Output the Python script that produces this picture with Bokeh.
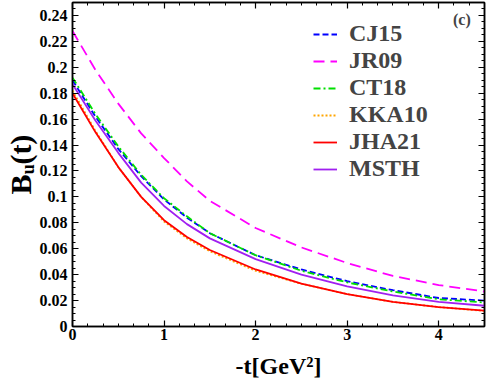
from bokeh.plotting import figure
from bokeh.models import (Range1d, FixedTicker, LinearAxis, Label, Legend)
from bokeh.embed import file_html
from bokeh.resources import INLINE

# ---- data ----
t_vals = [0, 0.25, 0.5, 0.75, 1, 1.25, 1.5, 2, 2.5, 3, 3.5, 4, 4.5]
cj15 = [0.190, 0.162, 0.137, 0.116, 0.098, 0.084, 0.072, 0.055, 0.044, 0.035, 0.028, 0.022, 0.020]
jr09 = [0.228, 0.198, 0.172, 0.149, 0.130, 0.112, 0.097, 0.076, 0.061, 0.049, 0.039, 0.032, 0.027]
ct18 = [0.192, 0.164, 0.139, 0.117, 0.099, 0.085, 0.072, 0.055, 0.043, 0.034, 0.027, 0.021, 0.0185]
kka10 = [0.182, 0.151, 0.123, 0.100, 0.081, 0.068, 0.058, 0.043, 0.033, 0.025, 0.019, 0.015, 0.012]
jha21 = [0.180, 0.150, 0.123, 0.100, 0.082, 0.069, 0.059, 0.044, 0.033, 0.025, 0.019, 0.015, 0.0123]
msth = [0.187, 0.159, 0.134, 0.111, 0.093, 0.079, 0.068, 0.052, 0.040, 0.031, 0.024, 0.019, 0.016]

series_names = ["CJ15", "JR09", "CT18", "KKA10", "JHA21", "MSTH"]
series_vals = [cj15, jr09, ct18, kka10, jha21, msth]
series_colors = ["#0000FF", "#FF00FF", "#00E000", "#FFA500", "#FF0000", "#A020F0"]
series_dash = ["6 3", "11 6", "7 3 2 3", "2 2", "solid", "solid"]

x_ticks = [0, 1, 2, 3, 4]
x_tick_labels = ["0", "1", "2", "3", "4"]
y_ticks = [0, 0.02, 0.04, 0.06, 0.08, 0.1, 0.12, 0.14, 0.16, 0.18, 0.2, 0.22, 0.24]
y_tick_labels = ["0", "0.02", "0.04", "0.06", "0.08", "0.1", "0.12", "0.14",
                 "0.16", "0.18", "0.2", "0.22", "0.24"]

FONT = "Liberation Serif"

p = figure(width=486, height=382, output_backend="svg", toolbar_location=None,
           x_range=Range1d(0, 4.5), y_range=Range1d(0, 0.25),
           min_border_left=72, min_border_right=2, min_border_top=2, min_border_bottom=56)
p.grid.visible = False
p.outline_line_color = "black"
p.outline_line_width = 1.5
p.background_fill_color = "white"
p.border_fill_color = "white"

renderers = []
for name, vals, col, dash in zip(series_names, series_vals, series_colors, series_dash):
    r = p.line(t_vals, vals, line_color=col, line_width=1.8, line_dash=dash)
    renderers.append((name, r))

xminor = [i / 6 for i in range(28)]
yminor = [i * 0.005 for i in range(51)]
xt = FixedTicker(ticks=x_ticks, minor_ticks=xminor)
yt = FixedTicker(ticks=y_ticks, minor_ticks=yminor)

def style_axis(ax):
    ax.axis_line_width = 1.5
    ax.axis_line_color = "black"
    ax.major_tick_in = 6
    ax.major_tick_out = 0
    ax.minor_tick_in = 3
    ax.minor_tick_out = 0
    ax.major_tick_line_width = 1.2
    ax.minor_tick_line_width = 1
    ax.major_label_text_font = FONT
    ax.major_label_text_font_style = "bold"
    ax.major_label_text_color = "black"
    ax.major_label_text_font_size = "16px"
    ax.axis_label_text_font = FONT
    ax.axis_label_text_font_style = "bold"
    ax.axis_label_text_color = "black"

p.xaxis.ticker = xt
p.yaxis.ticker = yt
p.xaxis.major_label_overrides = dict(zip(x_ticks, x_tick_labels))
p.yaxis.major_label_overrides = dict(zip(y_ticks, y_tick_labels))
style_axis(p.xaxis[0])
style_axis(p.yaxis[0])
p.xaxis.major_label_standoff = 2
p.yaxis.major_label_standoff = 5

p.yaxis.axis_label = "B\u1d64(t)"
p.yaxis.axis_label_text_font_size = "30px"
p.yaxis.axis_label_standoff = 0
p.xaxis.axis_label = "-t[GeV\u00b2]"
p.xaxis.axis_label_text_font_size = "24px"
p.xaxis.axis_label_standoff = 10

top_ax = LinearAxis(ticker=xt)
right_ax = LinearAxis(ticker=yt)
style_axis(top_ax)
style_axis(right_ax)
top_ax.major_label_overrides = {v: "" for v in x_ticks}
right_ax.major_label_overrides = {v: "" for v in y_ticks}
top_ax.major_label_standoff = 0
right_ax.major_label_standoff = 0
p.add_layout(top_ax, "above")
p.add_layout(right_ax, "right")

legend = Legend(items=[(n, [r]) for n, r in renderers], location=(241, 144))
legend.label_text_font = FONT
legend.label_text_font_style = "bold"
legend.label_text_font_size = "24px"
legend.glyph_width = 24
legend.glyph_height = 24
legend.label_height = 24
legend.spacing = 0
legend.padding = 0
legend.margin = 0
legend.label_standoff = 12
legend.border_line_alpha = 0
legend.background_fill_alpha = 0
p.add_layout(legend, "center")

p.add_layout(Label(x=4.35, y=0.2369, text="(c)", text_align="right", text_baseline="middle",
                   text_font=FONT, text_font_style="bold", text_font_size="16px"))

open("out.html", "w").write(file_html(p, INLINE))
